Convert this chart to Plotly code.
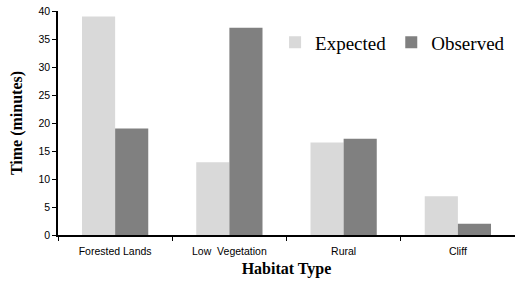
import plotly.graph_objects as go

categories = ["Forested Lands", "Low  Vegetation", "Rural", "Cliff"]
expected = [39, 13, 16.5, 6.9]
observed = [19, 37, 17.2, 2.0]
y_ticks = [0, 5, 10, 15, 20, 25, 30, 35, 40]

fig = go.Figure()
fig.add_trace(go.Bar(x=categories, y=expected, name="Expected",
                     marker=dict(color="#d9d9d9", line=dict(width=0))))
fig.add_trace(go.Bar(x=categories, y=observed, name="Observed",
                     marker=dict(color="#808080", line=dict(width=0))))

fig.update_layout(
    width=515, height=281,
    margin=dict(l=58, r=0, t=11, b=46, autoexpand=False),
    paper_bgcolor="white", plot_bgcolor="white",
    barmode="group", bargap=0.42, bargroupgap=0,
    showlegend=True,
    legend=dict(orientation="h", x=0.475, y=0.945, xanchor="left", yanchor="top",
                font=dict(family="Liberation Serif", size=19, color="black"),
                bgcolor="rgba(0,0,0,0)", itemwidth=30, tracegroupgap=0),
    xaxis=dict(
        range=[-0.5, 3.5], showline=True, linecolor="black", linewidth=1.5,
        ticks="outside", tickson="boundaries", ticklen=4, tickcolor="black",
        ticklabelstandoff=6, automargin=False,
        tickfont=dict(family="Liberation Sans", size=10.5, color="black"),
        title=dict(text="<b>Habitat Type</b>", standoff=6,
                   font=dict(family="Liberation Serif", size=16, color="black")),
        showgrid=False, gridcolor="rgba(0,0,0,0)", zeroline=False,
    ),
    yaxis=dict(
        range=[0, 40], tickvals=y_ticks, showline=True, linecolor="black",
        linewidth=1.5, ticks="outside", ticklen=4, tickcolor="black",
        automargin=False,
        tickfont=dict(family="Liberation Sans", size=10.5, color="black"),
        title=dict(text="<b>Time (minutes)</b>", standoff=12,
                   font=dict(family="Liberation Serif", size=16, color="black")),
        showgrid=False, gridcolor="rgba(0,0,0,0)", zeroline=False,
    ),
)
fig.write_html(
    "out.html",
    config={"displayModeBar": False},
    post_script="document.body.style.margin='0';document.body.style.overflow='hidden';"
                "document.documentElement.style.overflow='hidden';",
)
